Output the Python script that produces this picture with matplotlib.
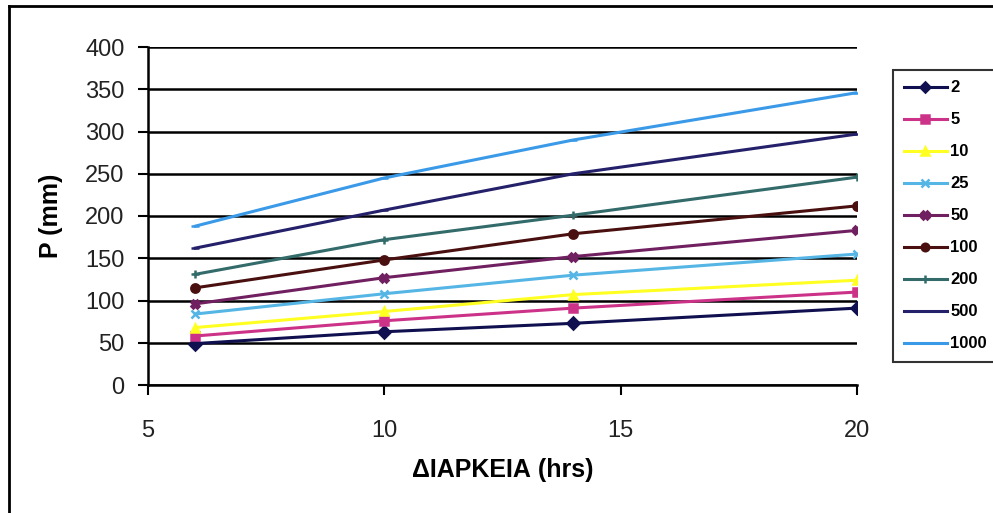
import matplotlib
matplotlib.use("Agg")
import matplotlib.pyplot as plt
from matplotlib.lines import Line2D

plt.rcParams["font.family"] = ["Liberation Sans", "DejaVu Sans"]

# duration (hrs)
durations = [6, 10, 14, 20]

# return periods (years) and rainfall depth P (mm)
p_2 = [49, 63, 73, 91]
p_5 = [58, 76, 91, 110]
p_10 = [68, 87, 107, 124]
p_25 = [84, 108, 130, 155]
p_50 = [96, 127, 152, 183]
p_100 = [115, 148, 179, 212]
p_200 = [131, 172, 201, 246]
p_500 = [162, 207, 250, 297]
p_1000 = [188, 245, 290, 346]

labels = ["2", "5", "10", "25", "50", "100", "200", "500", "1000"]
series = [p_2, p_5, p_10, p_25, p_50, p_100, p_200, p_500, p_1000]
colors = ["#101050", "#cc3388", "#ffff22", "#55b5e5", "#702060",
          "#4a1010", "#336b6b", "#25206a", "#3a9ae8"]
markers = ["D", "s", "^", "x", "X", "o", "+", "_", "_"]

fig = plt.figure(figsize=(9.93, 5.13), dpi=100)
ax = fig.add_axes([148 / 993, 128 / 513, 709 / 993, 338 / 513])

for ys, lab, c, m in zip(series, labels, colors, markers):
    ax.plot(durations, ys, color=c, lw=2.2, marker=m, ms=6, mew=1.8,
            label=lab, zorder=3)

ax.set_xlim(5, 20)
ax.set_ylim(0, 400)
ax.set_xticks([5, 10, 15, 20])
ax.set_yticks(range(0, 401, 50))
ax.yaxis.grid(True, color="black", lw=1.8, zorder=1)
ax.set_axisbelow(True)
for s in ("top", "right"):
    ax.spines[s].set_visible(False)
for s in ("left", "bottom"):
    ax.spines[s].set_linewidth(1.8)
ax.tick_params(axis="both", direction="out", length=7, width=1.5,
               labelsize=17, labelcolor="#222222")
ax.tick_params(axis="y", pad=10)
ax.tick_params(axis="x", pad=18)

ax.set_xlabel("ΔΙΑΡΚΕΙΑ (hrs)", fontsize=18, fontweight="bold", labelpad=12)
ax.set_ylabel("P (mm)", fontsize=18, fontweight="bold", labelpad=16)

leg = fig.legend(loc="upper left", bbox_to_anchor=(893 / 993, 1 - 70 / 513),
                 fontsize=12, frameon=True, fancybox=False, handlelength=2.6,
                 labelspacing=1.02, borderpad=0.63, handletextpad=0.2,
                 borderaxespad=0, markerscale=0.9)
leg.get_frame().set_edgecolor("black")
leg.get_frame().set_linewidth(1.5)
for t in leg.get_texts():
    t.set_fontweight("bold")

# outer chart border (left and top edges visible)
fig.add_artist(Line2D([9 / 993, 9 / 993], [0, 1 - 6 / 513], color="black", lw=2))
fig.add_artist(Line2D([9 / 993, 1], [1 - 6 / 513, 1 - 6 / 513], color="black", lw=2))

fig.savefig("out.png", dpi=100)
